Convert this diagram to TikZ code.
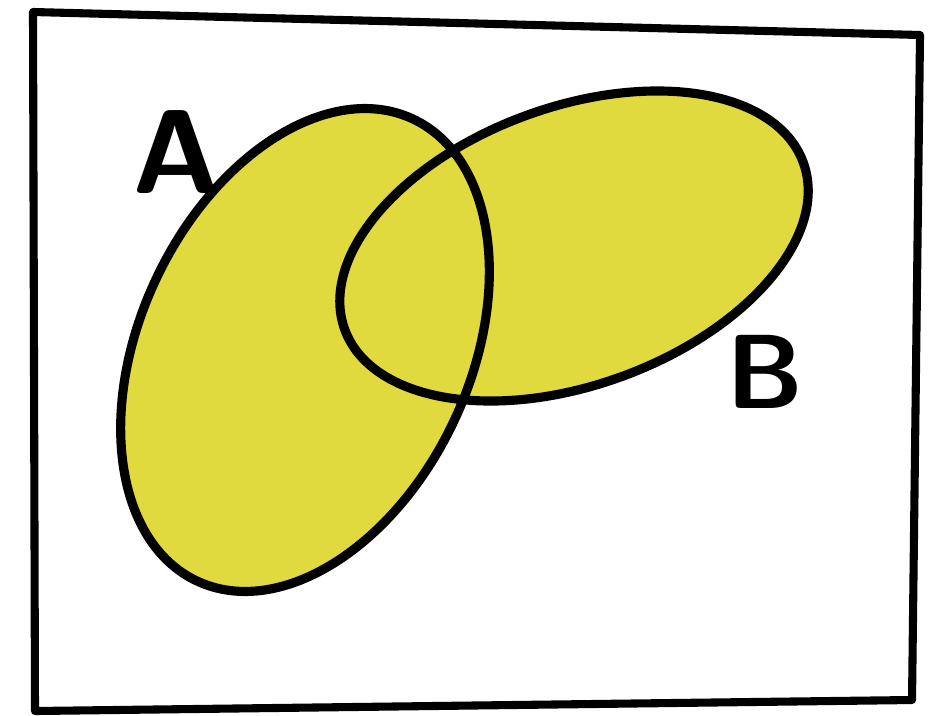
\documentclass[tikz,border=0pt]{standalone}
\usepackage{tikz}
\usepackage{xcolor}
\definecolor{setfill}{RGB}{224,218,62}

\begin{document}
\begin{tikzpicture}[
  outline/.style={draw=black, line width=2.6pt},
  frame/.style={draw=black, line width=2.3pt, line join=round},
  setlabel/.style={font=\fontsize{34}{34}\selectfont\sffamily\bfseries}
]
\useasboundingbox (0,0) rectangle (9.39,7.15);
% universe
\draw[frame] (0.33,7.03) -- (9.20,6.80) -- (9.12,0.15) -- (0.35,0.04) -- cycle;
% shaded union
\fill[setfill, rotate around={65:(3.05,3.65)}] (3.05,3.65) ellipse [x radius=2.55, y radius=1.65];
\fill[setfill, rotate around={20:(5.74,4.69)}] (5.74,4.69) ellipse [x radius=2.44, y radius=1.39];
% outlines
\draw[outline, rotate around={65:(3.05,3.65)}] (3.05,3.65) ellipse [x radius=2.55, y radius=1.65];
\draw[outline, rotate around={20:(5.74,4.69)}] (5.74,4.69) ellipse [x radius=2.44, y radius=1.39];
% labels
\node[setlabel] (labA) at (1.76,5.63) {A};
\node[setlabel, font=\fontsize{30}{30}\selectfont\sffamily\bfseries] (labB) at (7.65,3.43) {B};
\end{tikzpicture}
\end{document}
